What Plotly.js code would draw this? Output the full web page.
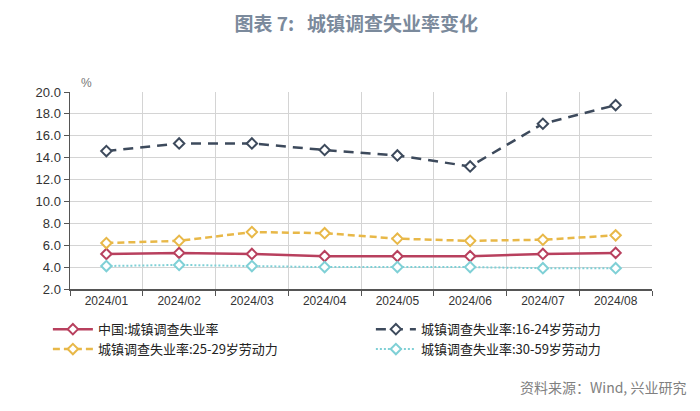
<!DOCTYPE html>
<html>
<head>
<meta charset="utf-8">
<script src="https://cdn.plot.ly/plotly-3.0.1.min.js"></script>
<style>html,body{margin:0;padding:0;background:#fff;}#chart{width:700px;height:411px;}</style>
</head>
<body>
<div id="chart"></div>
<script>
const months = ["2024/01","2024/02","2024/03","2024/04","2024/05","2024/06","2024/07","2024/08"];
const nameNational = "中国:城镇调查失业率";
const name1624 = "城镇调查失业率:16-24岁劳动力";
const name2529 = "城镇调查失业率:25-29岁劳动力";
const name3059 = "城镇调查失业率:30-59岁劳动力";
const national = [5.2, 5.3, 5.2, 5.0, 5.0, 5.0, 5.2, 5.3];
const age1624 = [14.6, 15.3, 15.3, 14.7, 14.2, 13.2, 17.1, 18.8];
const age2529 = [6.2, 6.4, 7.2, 7.1, 6.6, 6.4, 6.5, 6.9];
const age3059 = [4.1, 4.2, 4.1, 4.0, 4.0, 4.0, 3.9, 3.9];

const cjk = '"Noto Sans CJK SC", "Noto Sans", sans-serif';
function tr(name, y, color, dash, width) {
  return {
    type: 'scatter', mode: 'lines+markers', name: name, x: months, y: y,
    line: {color: color, width: width, dash: dash},
    marker: {symbol: 'diamond', size: 8, color: '#ffffff', line: {color: color, width: 2}}
  };
}
const data = [
  tr(nameNational, national, '#b8405e', 'solid', 2.5),
  tr(name1624, age1624, '#3d4a5c', '10px,7px', 2.5),
  tr(name2529, age2529, '#e8b848', '7px,4px', 2.5),
  tr(name3059, age3059, '#7fd0d6', '2px,2px', 2)
];
const layout = {
  width: 700, height: 411,
  margin: {l: 70, r: 48, t: 92, b: 122, autoexpand: false},
  paper_bgcolor: '#ffffff', plot_bgcolor: '#ffffff',
  font: {family: cjk, size: 12, color: '#333333'},
  title: {text: '图表 7:\u00a0\u00a0\u00a0城镇调查失业率变化', x: 0.509, xanchor: 'center', y: 0.94, yanchor: 'middle',
          font: {family: cjk, size: 19, color: '#7b8a9c', weight: 'bold'}},
  xaxis: {type: 'category', tickson: 'boundaries', showgrid: true, gridcolor: '#d4d4d4', gridwidth: 1,
          showline: true, linecolor: '#555555', linewidth: 1.5, ticks: 'outside', ticklen: 5, tickcolor: '#555555',
          tickfont: {family: '"Liberation Sans", Arial, sans-serif', size: 12, color: '#333333'}, mirror: false,
          range: [-0.5, 7.5]},
  yaxis: {range: [2, 20], dtick: 2, tick0: 2, tickformat: '.1f', showgrid: true, gridcolor: '#d4d4d4', gridwidth: 1,
          showline: true, linecolor: '#555555', linewidth: 1.5, ticks: 'outside', ticklen: 5, tickcolor: '#555555',
          tickfont: {family: '"Liberation Sans", Arial, sans-serif', size: 13, color: '#333333'}, zeroline: false},
  showlegend: true,
  legend: {orientation: 'h', x: -0.038, xanchor: 'left', y: -0.128, yanchor: 'top',
           traceorder: 'normal', entrywidth: 268, entrywidthmode: 'pixels', itemwidth: 40,
           font: {family: cjk, size: 13, color: '#222222'}, bgcolor: 'rgba(0,0,0,0)'},
  annotations: [
    {text: '%', xref: 'paper', yref: 'paper', x: 0.015, y: 1.0, xanchor: 'left', yanchor: 'bottom', showarrow: false,
     font: {family: '"Liberation Sans", Arial, sans-serif', size: 12, color: '#777777'}},
    {text: '资料来源：Wind, 兴业研究', xref: 'paper', yref: 'paper', x: 1.062, y: -0.497, xanchor: 'right', yanchor: 'middle',
     showarrow: false, font: {family: cjk, size: 14, color: '#808080'}}
  ]
};
Plotly.newPlot('chart', data, layout, {displayModeBar: false, staticPlot: true});
</script>
</body>
</html>
